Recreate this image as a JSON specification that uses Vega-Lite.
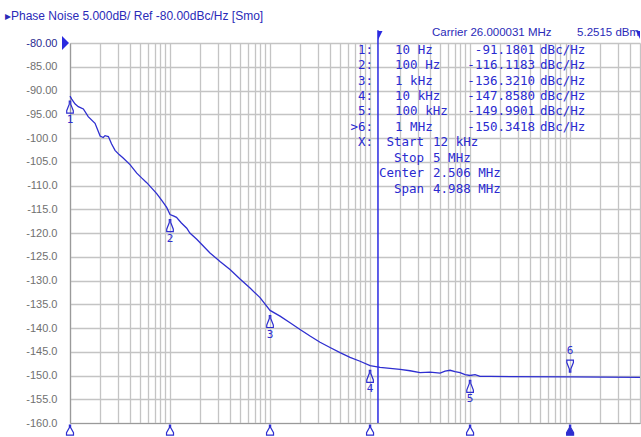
{
  "$schema": "https://vega.github.io/schema/vega-lite/v6.json",
  "width": 570,
  "height": 380,
  "autosize": {"type": "none"},
  "padding": {"left": 70, "top": 43, "right": 1, "bottom": 14},
  "background": "white",
  "config": {
    "view": {"stroke": null},
    "font": "Liberation Sans",
    "axisY": {"labelOverlap": false}
  },
  "datasets": {
    "trace": [
      {"freq": 10, "db": -91.2}, {"freq": 10.4, "db": -91.8}, {"freq": 11.2, "db": -92.8},
      {"freq": 12.1, "db": -93.4}, {"freq": 13.6, "db": -93.9}, {"freq": 15.2, "db": -95.5},
      {"freq": 17.8, "db": -96.9}, {"freq": 20, "db": -99.6}, {"freq": 21.5, "db": -99.9},
      {"freq": 22.4, "db": -99.5}, {"freq": 24.2, "db": -99.7}, {"freq": 26, "db": -101.2},
      {"freq": 28.2, "db": -102.6}, {"freq": 31, "db": -103.5}, {"freq": 34, "db": -104.2},
      {"freq": 39.8, "db": -105.6}, {"freq": 46.5, "db": -107.4}, {"freq": 52, "db": -108.4},
      {"freq": 58.5, "db": -109.4}, {"freq": 66, "db": -110.6}, {"freq": 73.6, "db": -111.7},
      {"freq": 83, "db": -113.2}, {"freq": 92.6, "db": -114.6}, {"freq": 100, "db": -116.1},
      {"freq": 108, "db": -116.4}, {"freq": 116, "db": -116.7}, {"freq": 130, "db": -117.9},
      {"freq": 147, "db": -119.0}, {"freq": 158, "db": -120.0}, {"freq": 185, "db": -121.3},
      {"freq": 251, "db": -124.2}, {"freq": 316, "db": -126.0}, {"freq": 398, "db": -127.7},
      {"freq": 501, "db": -129.7}, {"freq": 631, "db": -131.6}, {"freq": 794, "db": -133.6},
      {"freq": 1000, "db": -136.3}, {"freq": 1259, "db": -137.5}, {"freq": 1585, "db": -138.9},
      {"freq": 1995, "db": -140.3}, {"freq": 2512, "db": -141.7}, {"freq": 3162, "db": -143.0},
      {"freq": 3981, "db": -144.1}, {"freq": 5012, "db": -145.2}, {"freq": 6310, "db": -146.2},
      {"freq": 7943, "db": -147.0}, {"freq": 10000, "db": -147.9}, {"freq": 12589, "db": -148.3},
      {"freq": 15849, "db": -148.5}, {"freq": 19953, "db": -148.7}, {"freq": 25119, "db": -149.0},
      {"freq": 31623, "db": -149.4}, {"freq": 39811, "db": -149.3}, {"freq": 50119, "db": -149.5},
      {"freq": 56234, "db": -149.1}, {"freq": 63096, "db": -148.9}, {"freq": 70795, "db": -149.2},
      {"freq": 79433, "db": -149.4}, {"freq": 89125, "db": -149.8}, {"freq": 100000, "db": -150.0},
      {"freq": 112202, "db": -149.8}, {"freq": 125893, "db": -150.2}, {"freq": 158489, "db": -150.2},
      {"freq": 1000000, "db": -150.3}, {"freq": 5000000, "db": -150.4}
    ],
    "markers": [
      {"id": "1", "freq": 10, "db": -91.1801, "active": "no"},
      {"id": "2", "freq": 100, "db": -116.1183, "active": "no"},
      {"id": "3", "freq": 1000, "db": -136.321, "active": "no"},
      {"id": "4", "freq": 10000, "db": -147.858, "active": "no"},
      {"id": "5", "freq": 100000, "db": -149.9901, "active": "no"},
      {"id": "6", "freq": 1000000, "db": -150.3418, "active": "yes"}
    ],
    "table": [
      {"row": 0, "num": "1:", "f": "10 Hz", "v": "-91.1801", "u": "dBc/Hz"},
      {"row": 1, "num": "2:", "f": "100 Hz", "v": "-116.1183", "u": "dBc/Hz"},
      {"row": 2, "num": "3:", "f": "1 kHz", "v": "-136.3210", "u": "dBc/Hz"},
      {"row": 3, "num": "4:", "f": "10 kHz", "v": "-147.8580", "u": "dBc/Hz"},
      {"row": 4, "num": "5:", "f": "100 kHz", "v": "-149.9901", "u": "dBc/Hz"},
      {"row": 5, "num": ">6:", "f": "1 MHz", "v": "-150.3418", "u": "dBc/Hz"},
      {"row": 6, "num": "X:", "lab": "Start", "lv": "12 kHz"},
      {"row": 7, "lab": "Stop", "lv": "5 MHz"},
      {"row": 8, "lab": "Center", "lv": "2.506 MHz"},
      {"row": 9, "lab": "Span", "lv": "4.988 MHz"}
    ],
    "one": [{}]
  },
  "resolve": {"scale": {"y": "independent"}},
  "layer": [
    {
      "encoding": {
        "x": {
          "field": "freq", "type": "quantitative",
          "scale": {"type": "log", "domain": [10, 5000000], "nice": false},
          "axis": {
            "title": null, "labels": false, "ticks": false,
            "domainColor": "#9a9a9a", "domainWidth": 1.2,
            "grid": true, "gridColor": "#c4c4c4", "gridWidth": 1.3,
            "values": [10, 20, 30, 40, 50, 60, 70, 80, 90,
              100, 200, 300, 400, 500, 600, 700, 800, 900,
              1000, 2000, 3000, 4000, 5000, 6000, 7000, 8000, 9000,
              10000, 20000, 30000, 40000, 50000, 60000, 70000, 80000, 90000,
              100000, 200000, 300000, 400000, 500000, 600000, 700000, 800000, 900000,
              1000000, 2000000, 3000000, 4000000, 5000000]
          }
        },
        "y": {
          "field": "db", "type": "quantitative",
          "scale": {"domain": [-160, -80], "nice": false},
          "axis": {
            "title": null, "ticks": false, "labelPadding": 13, "labelOverlap": false,
            "domainColor": "#9a9a9a", "domainWidth": 1.2,
            "grid": true, "gridColor": "#c4c4c4", "gridWidth": 1.3,
            "values": [-160, -155, -150, -145, -140, -135, -130, -125, -120, -115, -110, -105, -100, -95, -90, -85, -80],
            "labelExpr": "replace(datum.value > -100 ? format(datum.value, '.2f') : format(datum.value, '.1f'), '\u2212', '-')",
            "labelFont": "Liberation Sans", "labelFontSize": 11,
            "labelColor": {"condition": {"test": "datum.value == -80", "value": "#2a2a90"}, "value": "#707070"}
          }
        }
      },
      "layer": [
        {
          "data": {"name": "trace"},
          "mark": {"type": "line", "color": "#2e2ed0", "strokeWidth": 1.3, "interpolate": "linear"}
        },
        {
          "data": {"name": "markers"},
          "transform": [{"filter": "datum.active == 'no'"}],
          "mark": {"type": "point", "shape": "M-0.12,-1 L0.12,-1 L0.12,-0.5 L0.55,0.6 L0.55,1 L-0.55,1 L-0.55,0.6 L-0.12,-0.5 Z", "size": 144, "filled": false, "color": "#2e2ed0", "strokeWidth": 1.2, "opacity": 1, "yOffset": 11}
        },
        {
          "data": {"name": "markers"},
          "transform": [{"filter": "datum.active == 'no'"}],
          "mark": {"type": "text", "font": "DejaVu Sans Mono", "fontSize": 11, "color": "#2e2ed0", "dy": 24, "baseline": "middle"},
          "encoding": {"text": {"field": "id"}}
        },
        {
          "data": {"name": "markers"},
          "transform": [{"filter": "datum.active == 'yes'"}],
          "mark": {"type": "point", "shape": "M-0.12,1 L0.12,1 L0.12,0.5 L0.55,-0.6 L0.55,-1 L-0.55,-1 L-0.55,-0.6 L-0.12,0.5 Z", "size": 144, "filled": false, "color": "#2e2ed0", "strokeWidth": 1.2, "opacity": 1, "yOffset": -11}
        },
        {
          "data": {"name": "markers"},
          "transform": [{"filter": "datum.active == 'yes'"}],
          "mark": {"type": "text", "font": "DejaVu Sans Mono", "fontSize": 11, "color": "#2e2ed0", "dy": -26, "baseline": "middle"},
          "encoding": {"text": {"field": "id"}}
        },
        {
          "data": {"name": "markers"},
          "mark": {"type": "point", "shape": "M-0.12,-1 L0.12,-1 L0.12,-0.5 L0.7,0.5 L0.7,1 L-0.7,1 L-0.7,0.5 L-0.12,-0.5 Z", "size": 100, "color": "#2e2ed0", "strokeWidth": 1.2, "opacity": 1},
          "encoding": {
            "y": {"datum": -161.5},
            "fill": {"field": "active", "type": "nominal", "scale": {"domain": ["no", "yes"], "range": ["white", "#2e2ed0"]}, "legend": null}
          }
        }
      ]
    },
    {
      "data": {"name": "one"},
      "layer": [
        {
          "mark": {"type": "text", "text": "▸Phase Noise 5.000dB/ Ref -80.00dBc/Hz [Smo]", "align": "left", "baseline": "middle", "font": "Liberation Sans", "fontSize": 12, "color": "#2a2ab8"},
          "encoding": {"x": {"datum": 2.24}, "y": {"datum": -74.3, "type": "quantitative", "scale": {"domain": [-160, -80], "nice": false}, "axis": null}}
        },
        {
          "mark": {"type": "rule", "color": "#2a2ae0", "strokeWidth": 1.5},
          "encoding": {"x": {"datum": 12000}, "y": {"datum": -160, "type": "quantitative", "axis": null}, "y2": {"datum": -77.3}}
        },
        {
          "mark": {"type": "point", "shape": "M0,-1 L1,-1 L0,1 Z", "size": 81, "filled": true, "color": "#2a2ae0", "opacity": 1},
          "encoding": {"x": {"datum": 12000}, "y": {"datum": -78.4, "type": "quantitative", "axis": null}}
        },
        {
          "mark": {"type": "point", "shape": "M0,-1 L-1,-1 L0,1 Z", "size": 64, "filled": true, "color": "#2a2ae0", "opacity": 1},
          "encoding": {"x": {"datum": 5000000}, "y": {"datum": -78.3, "type": "quantitative", "axis": null}}
        },
        {
          "mark": {"type": "point", "shape": "M-0.5,-1 L0.5,0 L-0.5,1 Z", "size": 196, "filled": true, "color": "#2a2ae0", "opacity": 1},
          "encoding": {"x": {"datum": 9.02}, "y": {"datum": -80, "type": "quantitative", "axis": null}}
        },
        {
          "mark": {"type": "text", "text": "Carrier 26.000031 MHz", "align": "left", "baseline": "middle", "font": "Liberation Sans", "fontSize": 11.5, "color": "#2a2ab8"},
          "encoding": {"x": {"datum": 41687}, "y": {"datum": -77.9, "type": "quantitative", "axis": null}}
        },
        {
          "mark": {"type": "text", "text": "5.2515 dBm", "align": "left", "baseline": "middle", "font": "Liberation Sans", "fontSize": 11.5, "color": "#2a2ab8"},
          "encoding": {"x": {"datum": 1175000}, "y": {"datum": -77.9, "type": "quantitative", "axis": null}}
        }
      ]
    },
    {
      "data": {"name": "table"},
      "encoding": {
        "y": {"field": "row", "type": "quantitative", "scale": {"domain": [-0.42, 24.1], "reverse": true, "nice": false}, "axis": null}
      },
      "layer": [
        {
          "transform": [{"filter": "isValid(datum.num)"}],
          "mark": {"type": "text", "align": "right", "baseline": "middle", "font": "DejaVu Sans Mono", "fontSize": 12.5, "color": "#2a2ad0"},
          "encoding": {"x": {"datum": 10715}, "text": {"field": "num"}}
        },
        {
          "transform": [{"filter": "isValid(datum.f)"}],
          "mark": {"type": "text", "align": "left", "baseline": "middle", "font": "DejaVu Sans Mono", "fontSize": 12.5, "color": "#2a2ad0"},
          "encoding": {"x": {"datum": 17783}, "text": {"field": "f"}}
        },
        {
          "transform": [{"filter": "isValid(datum.v)"}],
          "mark": {"type": "text", "align": "right", "baseline": "middle", "font": "DejaVu Sans Mono", "fontSize": 12.5, "color": "#2a2ad0"},
          "encoding": {"x": {"datum": 446684}, "text": {"field": "v"}}
        },
        {
          "transform": [{"filter": "isValid(datum.u)"}],
          "mark": {"type": "text", "align": "left", "baseline": "middle", "font": "DejaVu Sans Mono", "fontSize": 12.5, "color": "#2a2ad0"},
          "encoding": {"x": {"datum": 501187}, "text": {"field": "u"}}
        },
        {
          "transform": [{"filter": "isValid(datum.lab)"}],
          "mark": {"type": "text", "align": "right", "baseline": "middle", "font": "DejaVu Sans Mono", "fontSize": 12.5, "color": "#2a2ad0"},
          "encoding": {"x": {"datum": 34674}, "text": {"field": "lab"}}
        },
        {
          "transform": [{"filter": "isValid(datum.lv)"}],
          "mark": {"type": "text", "align": "left", "baseline": "middle", "font": "DejaVu Sans Mono", "fontSize": 12.5, "color": "#2a2ad0"},
          "encoding": {"x": {"datum": 42658}, "text": {"field": "lv"}}
        }
      ]
    }
  ]
}
